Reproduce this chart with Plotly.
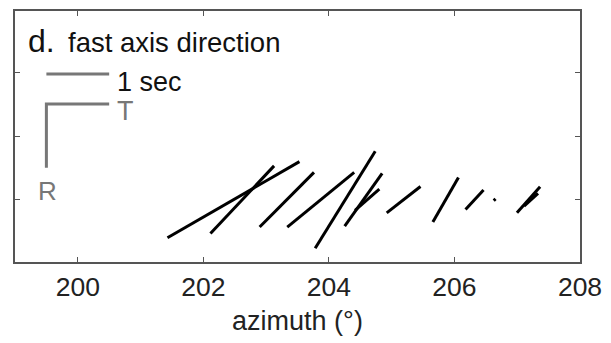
import numpy as np
import plotly.graph_objects as go

# Splitting measurements: station azimuth (deg), fast-axis angle from T (deg), delay time (s)
azimuth = [202.48, 202.62, 203.33, 203.87, 204.26, 204.55, 204.61, 205.19, 205.86, 206.32, 206.64, 207.18, 207.22]
fast_angle = [29.7, 46.4, 44.8, 38.9, 57.9, 54.2, 40.6, 37.7, 59.8, 46.9, 45.0, 47.9, 42.0]
delay_time = [2.42, 1.47, 1.22, 1.37, 1.80, 1.02, 0.51, 0.68, 0.81, 0.42, 0.04, 0.55, 0.30]
baseline = 1.0

x_ticks = [200, 202, 204, 206, 208]
y_ticks = [1, 2, 3]

xs, ys = [], []
for az, ang, dt in zip(azimuth, fast_angle, delay_time):
    dx = 0.5 * dt * np.cos(np.radians(ang))
    dy = 0.5 * dt * np.sin(np.radians(ang))
    xs += [az - dx, az + dx, None]
    ys += [baseline - dy, baseline + dy, None]

fig = go.Figure()
fig.add_trace(go.Scatter(x=xs, y=ys, mode="lines",
                         line=dict(color="black", width=3), hoverinfo="skip"))

# scale bar (1 sec) and T/R axes
fig.add_trace(go.Scatter(x=[199.5, 200.5], y=[2.98, 2.98], mode="lines",
                         line=dict(color="#777", width=3), hoverinfo="skip"))
fig.add_trace(go.Scatter(x=[200.5, 199.5, 199.5], y=[2.505, 2.505, 1.505], mode="lines",
                         line=dict(color="#777", width=3), hoverinfo="skip"))

F = "Liberation Sans, Arial, sans-serif"
ann = [
    dict(x=199.18, y=3.50, text="d.", font=dict(size=32, color="#111", family=F)),
    dict(x=199.82, y=3.47, text="fast axis direction", font=dict(size=27.5, color="#111", family=F)),
    dict(x=200.60, y=2.86, text="1 sec", font=dict(size=27, color="#111", family=F)),
    dict(x=200.60, y=2.40, text="T", font=dict(size=27, color="#777", family=F)),
    dict(x=199.33, y=1.13, text="R", font=dict(size=26, color="#777", family=F)),
]
for a in ann:
    a.update(xref="x", yref="y", xanchor="left", yanchor="middle", showarrow=False)

fig.update_layout(
    width=611, height=343,
    margin=dict(l=15, r=24, t=9, b=81),
    plot_bgcolor="white", paper_bgcolor="white",
    showlegend=False,
    annotations=ann,
    font=dict(family=F, color="#222"),
)
fig.update_xaxes(range=[199, 208], tickvals=x_ticks, ticktext=[str(v) for v in x_ticks],
                 ticks="inside", ticklen=5, tickwidth=1.2, tickcolor="#555",
                 showline=True, linecolor="#555", linewidth=1.5, mirror="ticks",
                 showgrid=False, zeroline=False,
                 tickfont=dict(size=26.5, color="#222", family=F),
                 title=dict(text="azimuth (°)", font=dict(size=27, color="#222", family=F), standoff=11))
fig.update_yaxes(range=[0.02, 3.97], tickvals=y_ticks, showticklabels=False,
                 ticks="inside", ticklen=5, tickwidth=1.2, tickcolor="#555",
                 showline=True, linecolor="#555", linewidth=1.5, mirror="ticks",
                 showgrid=False, zeroline=False)

fig.write_html("out.html")
